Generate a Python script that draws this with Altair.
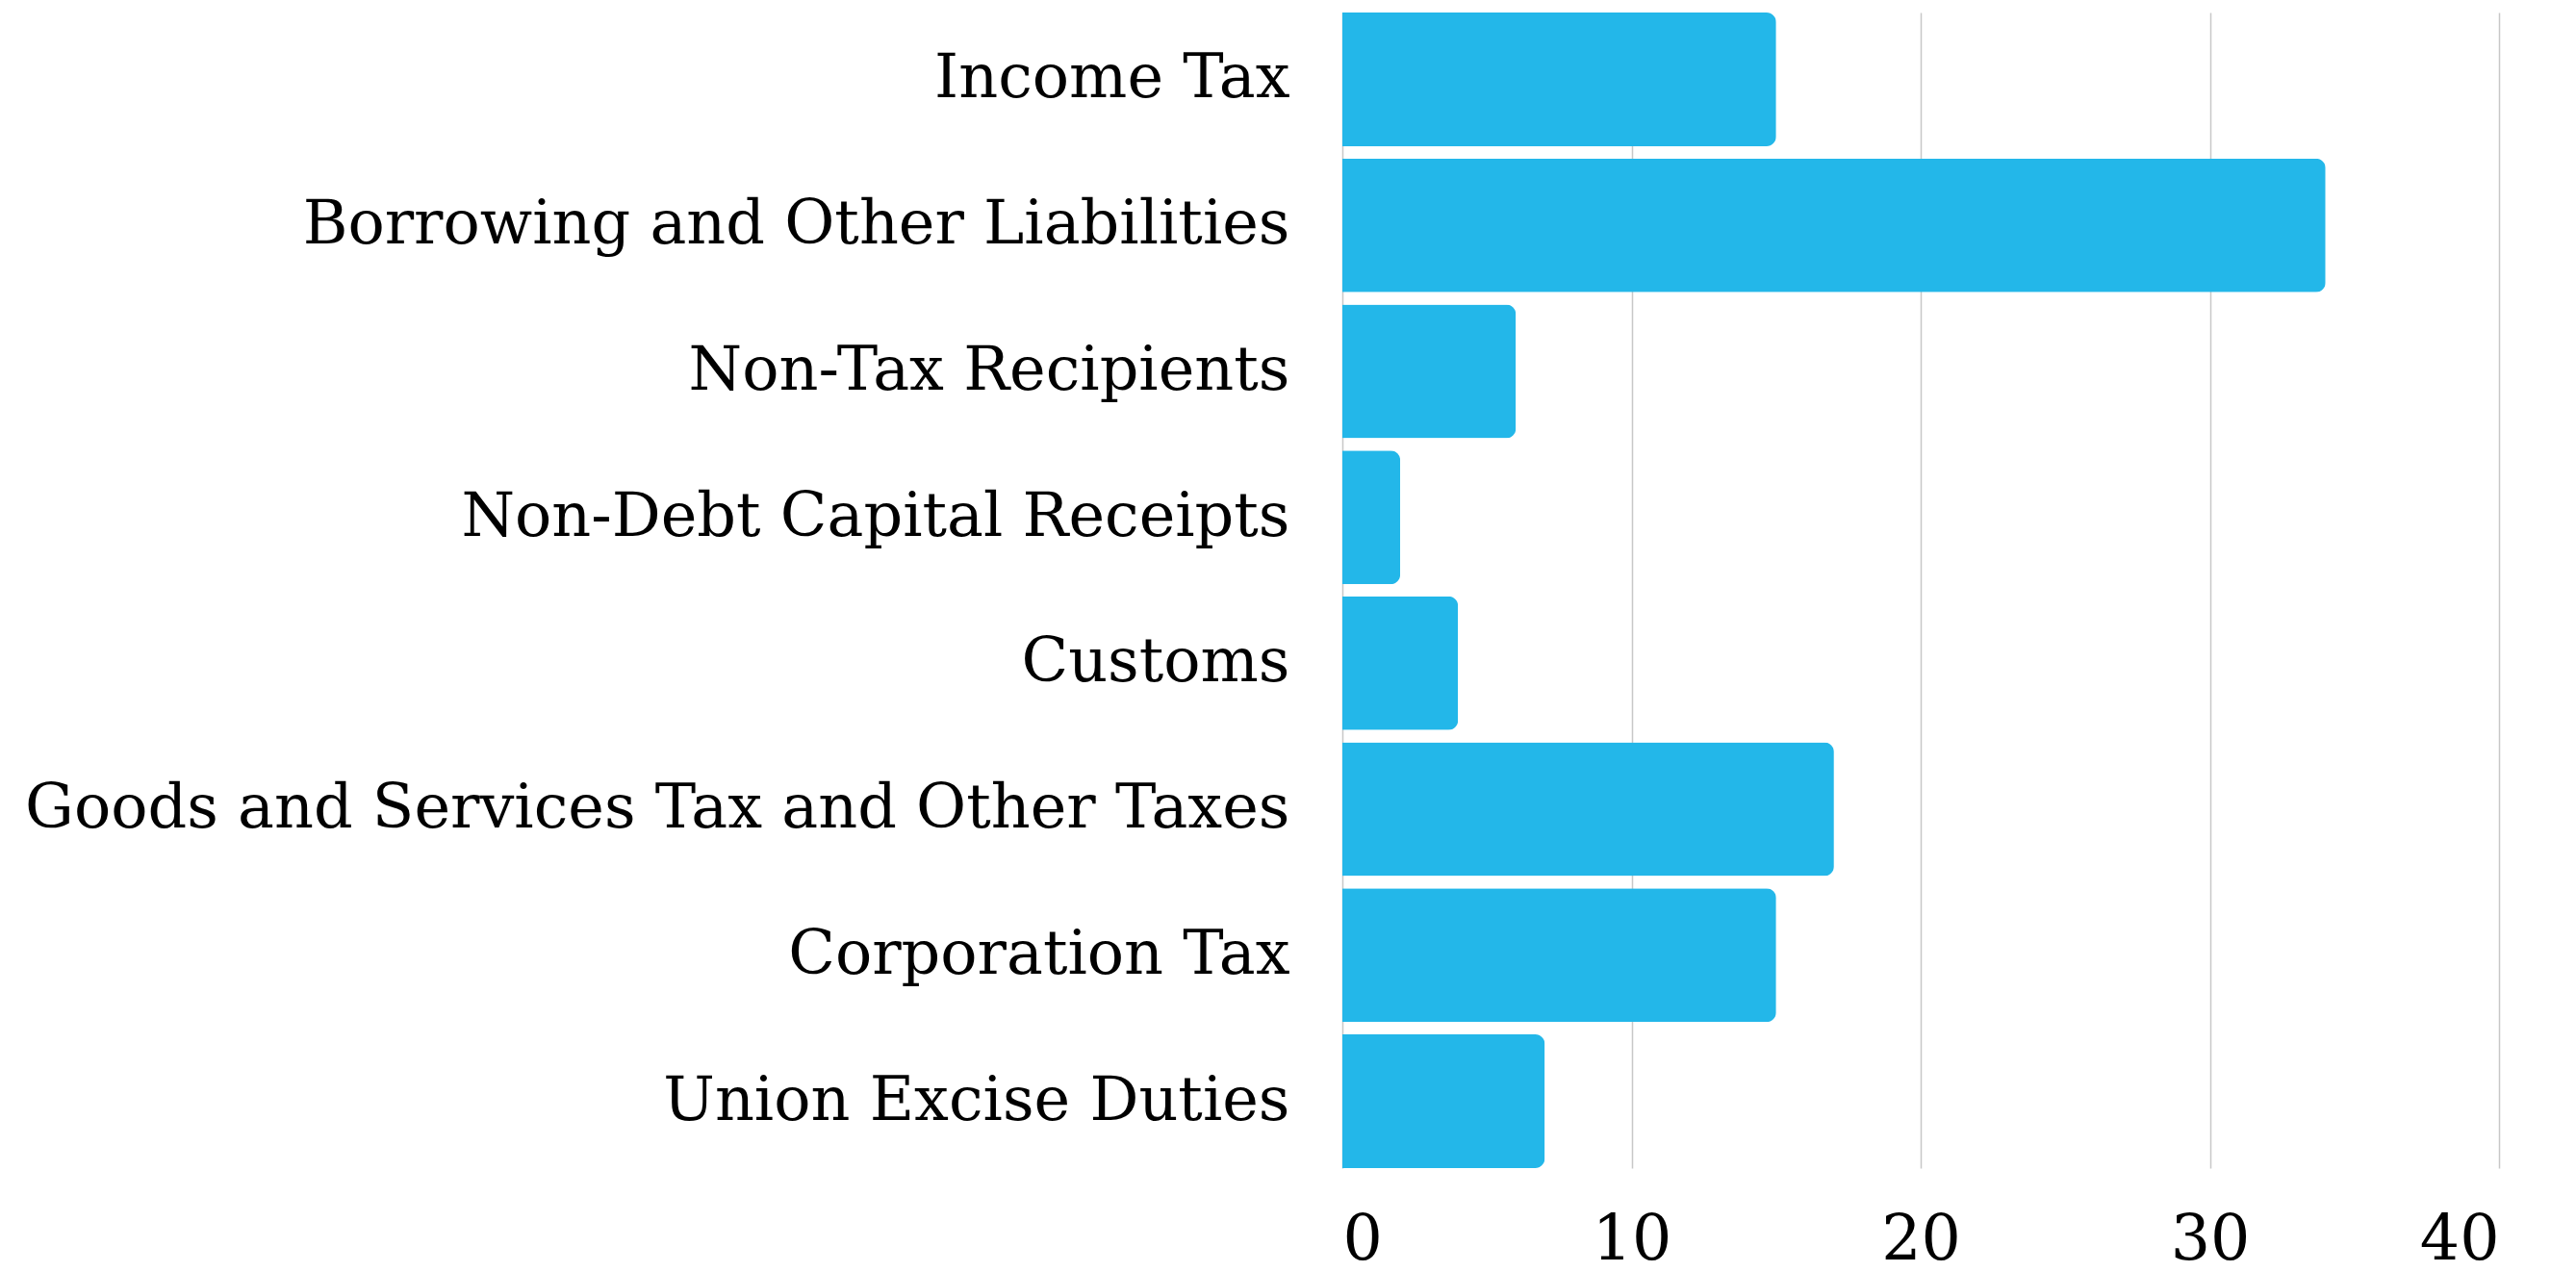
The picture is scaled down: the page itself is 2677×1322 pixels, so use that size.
import altair as alt
import pandas as pd

categories = [
    "Income Tax",
    "Borrowing and Other Liabilities",
    "Non-Tax Recipients",
    "Non-Debt Capital Receipts",
    "Customs",
    "Goods and Services Tax and Other Taxes",
    "Corporation Tax",
    "Union Excise Duties",
]
values = [15, 34, 6, 2, 4, 17, 15, 7]
x_ticks = [0, 10, 20, 30, 40]

df = pd.DataFrame({"category": categories, "value": values})

FONT = "DejaVu Serif"

chart = (
    alt.Chart(df)
    .mark_bar(color="#23B7E9", cornerRadiusEnd=10)
    .encode(
        x=alt.X(
            "value:Q",
            scale=alt.Scale(domain=[0, 40], nice=False),
            axis=alt.Axis(
                values=x_ticks,
                title=None,
                grid=True,
                gridColor="#c8c8c8",
                gridWidth=1.5,
                ticks=False,
                domain=False,
                labelFont=FONT,
                labelFontSize=65,
                labelColor="#000000",
                labelPadding=43,
            ),
        ),
        y=alt.Y(
            "category:N",
            sort=categories,
            scale=alt.Scale(paddingInner=0.084, paddingOuter=0),
            axis=alt.Axis(
                title=None,
                ticks=False,
                domain=False,
                labelFont=FONT,
                labelFontSize=63.6,
                labelColor="#000000",
                labelPadding=55,
                labelLimit=2000,
            ),
        ),
    )
    .properties(
        width=1202,
        height=1201,
        autosize=alt.AutoSizeParams(type="none"),
        padding={"left": 1387, "top": 5, "right": 72, "bottom": 100},
    )
    .configure_view(stroke=None)
)

chart.save("out.html", embed_options={"renderer": "svg", "actions": False})
